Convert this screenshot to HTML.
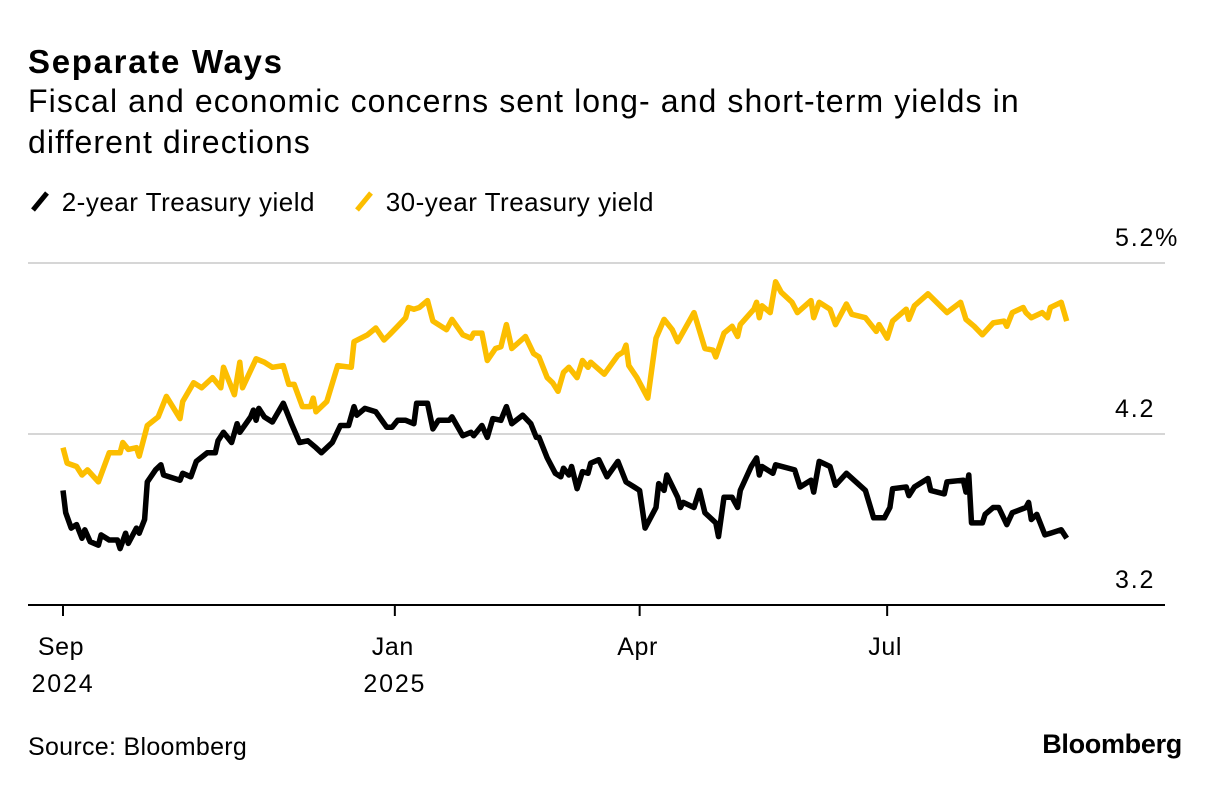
<!DOCTYPE html>
<html><head><meta charset="utf-8"><style>
body{margin:0;background:#fff;width:1221px;height:788px;overflow:hidden;font-family:"Liberation Sans",sans-serif;color:#000}
.t{position:absolute;white-space:nowrap}
</style></head><body>
<div class="t" style="left:28px;top:43px;font-size:33px;font-weight:bold;letter-spacing:1.7px">Separate Ways</div>
<div class="t" style="left:28px;top:81px;font-size:32px;line-height:41px;white-space:normal;width:1030px;letter-spacing:1.1px">Fiscal and economic concerns sent long- and short-term yields in different directions</div>
<div class="t" style="left:28px;top:187px;font-size:26px;letter-spacing:0.5px"><svg width="26" height="26" style="vertical-align:-3px"><line x1="5" y1="22" x2="19" y2="5" stroke="#000" stroke-width="5"/></svg> 2-year Treasury yield</div>
<div class="t" style="left:352px;top:187px;font-size:26px;letter-spacing:0.5px"><svg width="26" height="26" style="vertical-align:-3px"><line x1="5" y1="22" x2="19" y2="5" stroke="#fcbe00" stroke-width="5"/></svg> 30-year Treasury yield</div>
<svg id="chart" width="1221" height="788" style="position:absolute;left:0;top:0" font-family="Liberation Sans, sans-serif"></svg>
<div class="t" style="left:28px;top:733px;font-size:25px;letter-spacing:0.3px">Source: Bloomberg</div>
<div class="t" style="right:39px;top:729px;font-size:27px;font-weight:bold;letter-spacing:-0.3px">Bloomberg</div>
<script>
const yTicks=[3.2,4.2,5.2];
const yTickLabels=["3.2","4.2","5.2%"];
const xTickDays=[0,122,212,303];
const xTickLabels=[["Sep","2024"],["Jan","2025"],["Apr",""],["Jul",""]];
const days30=[0,1.5,5,7,9,13,17,21,22,24,27,28,31,35,38,43,44,48,51,55,58,59,63,65,66,71,74,77,81,83,85,88,91,92,93,97,101,106,107,112,115,118,120,123,126,127,129,131,134,136,141,143,147,150,151,154,156,159,161,163,165,170,173,175,178,180,182,184,186,189,191,193,194,199,204,206,207,208,211,215,218,221,224,226,232,236,239,240,243,246,248,249,254,255,256,257,260,262,264,268,270,275,276,278,282,284,288,290,295,299,300,303,305,310,311,313,318,325,330,332,335,338,342,346,347,349,353,354,356,360,362,363,367,369];
const yield30=[4.12,4.03,4.01,3.96,3.99,3.92,4.09,4.09,4.15,4.11,4.12,4.07,4.25,4.30,4.42,4.29,4.39,4.50,4.47,4.53,4.47,4.59,4.43,4.62,4.47,4.64,4.62,4.59,4.60,4.49,4.49,4.36,4.36,4.41,4.33,4.39,4.60,4.59,4.74,4.78,4.82,4.75,4.78,4.83,4.88,4.94,4.93,4.94,4.98,4.86,4.81,4.87,4.78,4.76,4.79,4.79,4.63,4.70,4.71,4.84,4.70,4.77,4.67,4.65,4.53,4.50,4.45,4.56,4.59,4.53,4.63,4.59,4.62,4.55,4.66,4.68,4.72,4.60,4.53,4.41,4.76,4.87,4.81,4.74,4.91,4.70,4.69,4.65,4.79,4.83,4.77,4.84,4.93,4.97,4.88,4.95,4.91,5.09,5.03,4.97,4.91,4.98,4.88,4.97,4.93,4.84,4.96,4.90,4.88,4.80,4.84,4.76,4.86,4.93,4.87,4.95,5.02,4.91,4.97,4.87,4.83,4.78,4.85,4.86,4.83,4.91,4.94,4.91,4.88,4.91,4.88,4.94,4.97,4.86];
const days2=[0,1,3,5,7,8,10,13,14,17,20,21,23,24,27,28,30,31,34,36,37,43,44,47,49,53,56,57,59,62,64,65,69,70,71,72,74,77,81,84,87,90,93,95,99,102,105,107,108,111,115,119,121,123,124,126,129,130,134,136,138,142,143,147,150,151,154,156,158,161,163,165,169,172,174,175,178,181,183,184,186,187,189,191,193,194,197,200,204,207,210,212,214,218,219,221,222,226,227,228,232,234,236,240,241,243,246,248,249,253,255,256,257,261,262,269,271,275,276,278,282,284,288,295,298,302,304,305,310,311,313,318,319,324,325,331,332,333,334,338,339,342,344,347,349,354,355,356,358,361,363,367,369];
const yield2=[3.87,3.74,3.65,3.67,3.59,3.64,3.57,3.55,3.61,3.58,3.58,3.53,3.62,3.56,3.65,3.62,3.70,3.92,3.99,4.02,3.96,3.93,3.97,3.95,4.04,4.09,4.09,4.16,4.21,4.15,4.26,4.21,4.30,4.34,4.28,4.35,4.30,4.27,4.38,4.26,4.15,4.16,4.12,4.09,4.15,4.25,4.25,4.36,4.31,4.35,4.33,4.24,4.24,4.28,4.28,4.28,4.26,4.38,4.38,4.23,4.28,4.28,4.30,4.19,4.21,4.19,4.25,4.18,4.29,4.28,4.36,4.26,4.31,4.26,4.18,4.18,4.06,3.97,3.95,4.00,3.96,4.01,3.88,3.98,3.97,4.03,4.05,3.95,4.04,3.92,3.89,3.87,3.65,3.77,3.91,3.87,3.96,3.83,3.77,3.80,3.77,3.87,3.74,3.68,3.60,3.83,3.83,3.77,3.87,4.01,4.06,3.96,4.01,3.97,4.02,3.99,3.89,3.93,3.86,4.04,4.01,3.90,3.97,3.87,3.71,3.71,3.77,3.88,3.89,3.84,3.89,3.94,3.87,3.85,3.92,3.93,3.86,3.96,3.68,3.68,3.73,3.77,3.77,3.67,3.74,3.77,3.80,3.70,3.73,3.61,3.62,3.64,3.59];

const NS='http://www.w3.org/2000/svg';
const svg=document.getElementById('chart');
const x=d=>63+d*2.72;
const y=v=>605-(v-3.2)*171;
function mk(tag,attrs){const e=document.createElementNS(NS,tag);for(const k in attrs)e.setAttribute(k,attrs[k]);svg.appendChild(e);return e;}
yTicks.forEach((v,i)=>{
  if(i>0){const g=mk('line',{x1:28,x2:1165,y1:y(v),y2:y(v),stroke:'#d6d6d6','stroke-width':2});
  
  }
  const t=mk('text',{x:1115,y:y(v)-17,'font-size':25,'letter-spacing':1.8});t.textContent=yTickLabels[i];
  
  
});
const ax=mk('line',{x1:28,x2:1165,y1:605,y2:605,stroke:'#000','stroke-width':2});


xTickDays.forEach((d,i)=>{
  const tk=mk('line',{x1:x(d),x2:x(d),y1:605,y2:616,stroke:'#000','stroke-width':2});
  
  
  xTickLabels[i].forEach((s,j)=>{if(!s)return;
    const t=mk('text',{x:x(d)+(j?0:-2),y:655+j*37,'font-size':25,'text-anchor':'middle','letter-spacing':j?1.8:0.6});t.textContent=s;
    
    });
});
function line(days,vals,color,name){
  const d=days.map((dd,i)=>(i?'L':'M')+x(dd).toFixed(1)+','+y(vals[i]).toFixed(1)).join('');
  const p=mk('path',{d:d,fill:'none',stroke:color,'stroke-width':5.5,'stroke-linejoin':'round'});
  
  
}
line(days30,yield30,'#fcbe00','series-30-year');
line(days2,yield2,'#000','series-2-year');
</script>
</body></html>
